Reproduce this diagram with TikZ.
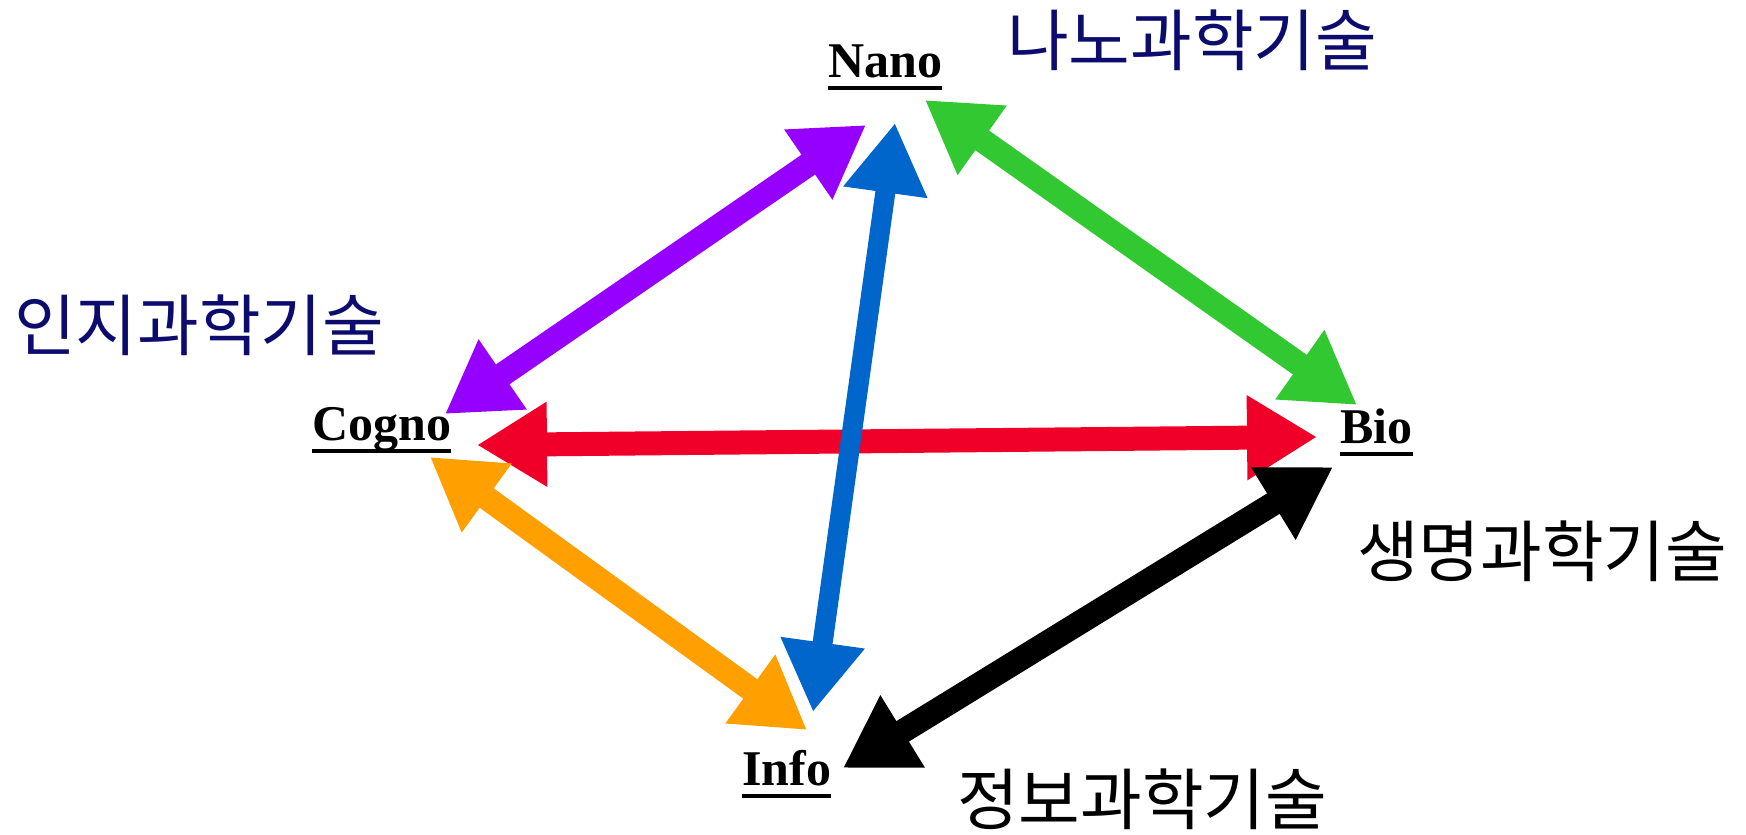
\documentclass[tikz,border=0pt]{standalone}
\usepackage{fontspec}
\setmainfont{Liberation Serif}
\newfontfamily\kr{Noto Sans CJK KR}
\usetikzlibrary{arrows.meta}
\definecolor{navy}{RGB}{12,12,110}
\definecolor{cpurple}{RGB}{150,0,255}
\definecolor{cblue}{RGB}{0,102,204}
\definecolor{cgreen}{RGB}{50,200,50}
\definecolor{cred}{RGB}{240,0,40}
\definecolor{corange}{RGB}{255,160,0}
\tikzset{
  lbl/.style={inner sep=0pt, anchor=base west, font=\fontsize{50}{50}\selectfont\bfseries},
  ulin/.style={line width=4pt},
  kor/.style={inner sep=0pt, font=\kr\fontsize{67}{67}\selectfont},
  link/.style={line width=24pt, {Triangle[length=70pt,width=80pt]}-{Triangle[length=70pt,width=80pt]}}
}
\begin{document}
\begin{tikzpicture}[x=1pt,y=-1pt]
\useasboundingbox (0,0) rectangle (1746,835);
\fill[white] (0,0) rectangle (1746,835);
% labels
\node[lbl] (nano) at (828,77) {Nano};
\node[lbl] (cogno) at (312,440) {Cogno};
\node[lbl] (bio) at (1340,443) {Bio};
\node[lbl] (info) at (742,785) {Info};
\foreach \n in {nano,cogno,bio,info}
  \draw[ulin] ([yshift=-11pt]\n.base west) -- ([yshift=-11pt]\n.base east);
% korean
\node[kor, text=navy] (knano) at (1192,40) {나노과학기술};
\node[kor, text=navy] (kcogno) at (199,325) {인지과학기술};
\node[kor] (kbio) at (1542,551) {생명과학기술};
\node[kor] (kinfo) at (1142,799) {정보과학기술};
% arrow end points
\coordinate (pA) at (866,125); \coordinate (pB) at (445,414);
\coordinate (bA) at (895,123); \coordinate (bB) at (813,712);
\coordinate (gA) at (925,100); \coordinate (gB) at (1357,405);
\coordinate (rA) at (477,445); \coordinate (rB) at (1317,437);
\coordinate (oA) at (430,457); \coordinate (oB) at (807,730);
\coordinate (kA) at (1333,467); \coordinate (kB) at (843,768);
\draw[link, cred] (rA) -- (rB);
\draw[link, corange] (oA) -- (oB);
\draw[link, cpurple] (pA) -- (pB);
\draw[link, cgreen] (gA) -- (gB);
\draw[link, black] (kA) -- (kB);
\draw[link, cblue, line width=20pt] (bA) -- (bB);
\end{tikzpicture}
\end{document}
